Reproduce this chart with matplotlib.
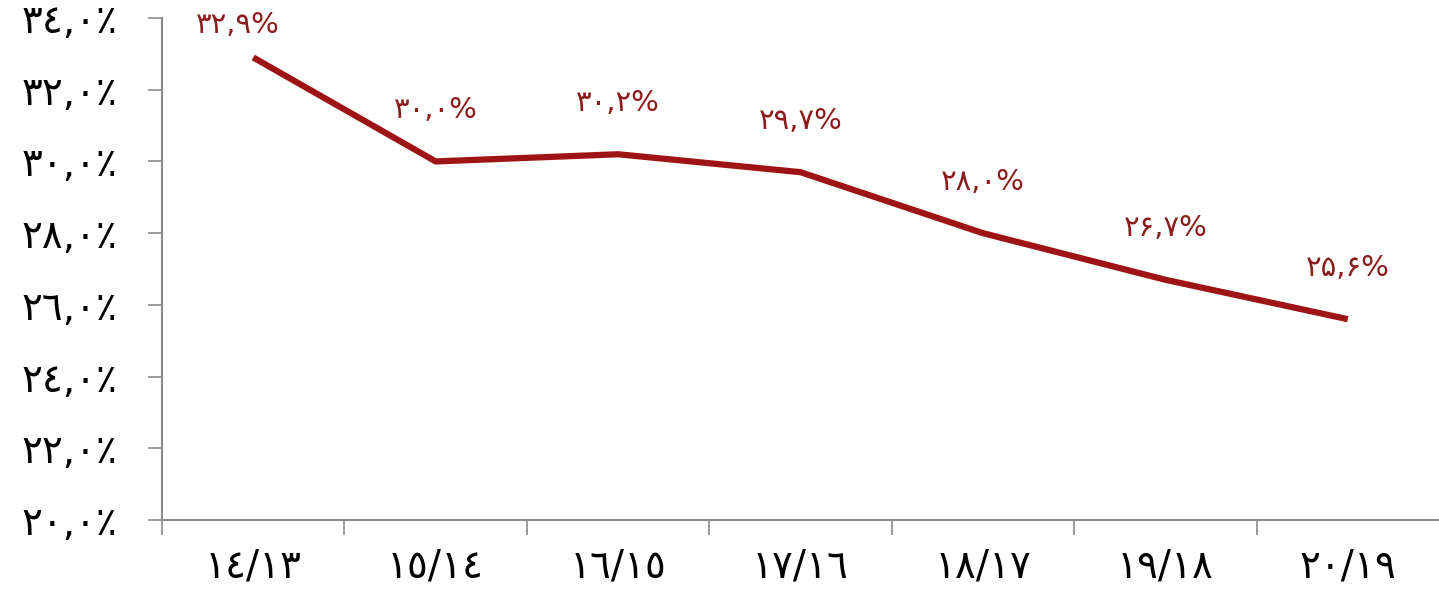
import numpy as np
import matplotlib.pyplot as plt

# data
periods = ["١٤/١٣", "١٥/١٤", "١٦/١٥", "١٧/١٦", "١٨/١٧", "١٩/١٨", "٢٠/١٩"]
values = [32.9, 30.0, 30.2, 29.7, 28.0, 26.7, 25.6]
point_labels = ["۳۲,۹%", "۳۰,۰%", "۳۰,۲%", "۲۹,۷%", "۲۸,۰%", "۲۶,۷%", "۲۵,۶%"]
y_ticks = [20, 22, 24, 26, 28, 30, 32, 34]
y_tick_labels = ["٢٠,٠٪", "٢٢,٠٪", "٢٤,٠٪", "٢٦,٠٪", "٢٨,٠٪", "٣٠,٠٪", "٣٢,٠٪", "٣٤,٠٪"]

line_color = "#9e1414"
label_color = "#8c1c1c"
axis_color = "#8a8a8a"

plt.rcParams['font.family'] = ['DejaVu Sans']

fig = plt.figure(figsize=(14.39, 5.92), dpi=100)
ax = fig.add_axes([162 / 1439, (592 - 520) / 592, (1439 - 162) / 1439, (520 - 18) / 592])

x = np.arange(len(values))
ax.plot(x, values, color=line_color, linewidth=4.5, solid_capstyle='butt', clip_on=False)

for i, (xi, v, lab) in enumerate(zip(x, values, point_labels)):
    # the first label sits lower and to the left so it stays inside the figure
    off = (-11, 23) if i == 0 else (0, 37)
    ax.annotate(lab, (xi, v), xytext=off, textcoords='offset points',
                ha='center', va='center', fontsize=21, color=label_color)

ax.set_xlim(-0.5, len(values) - 0.5)
ax.set_ylim(20, 34)

ax.set_yticks(y_ticks)
ax.set_yticklabels(y_tick_labels, fontsize=28)
ax.set_xticks(x)
ax.set_xticklabels(periods, fontsize=28)
ax.set_xticks(np.arange(-0.5, len(values) - 0.5, 1.0), minor=True)

ax.tick_params(axis='x', which='major', length=0, pad=20)
ax.tick_params(axis='x', which='minor', length=11, width=1.2, color=axis_color, direction='out')
ax.tick_params(axis='y', length=10, width=1.2, color=axis_color, pad=22)

for side in ['top', 'right']:
    ax.spines[side].set_visible(False)
for side in ['left', 'bottom']:
    ax.spines[side].set_color(axis_color)
    ax.spines[side].set_linewidth(1.5)

fig.savefig("out.png", dpi=100)
